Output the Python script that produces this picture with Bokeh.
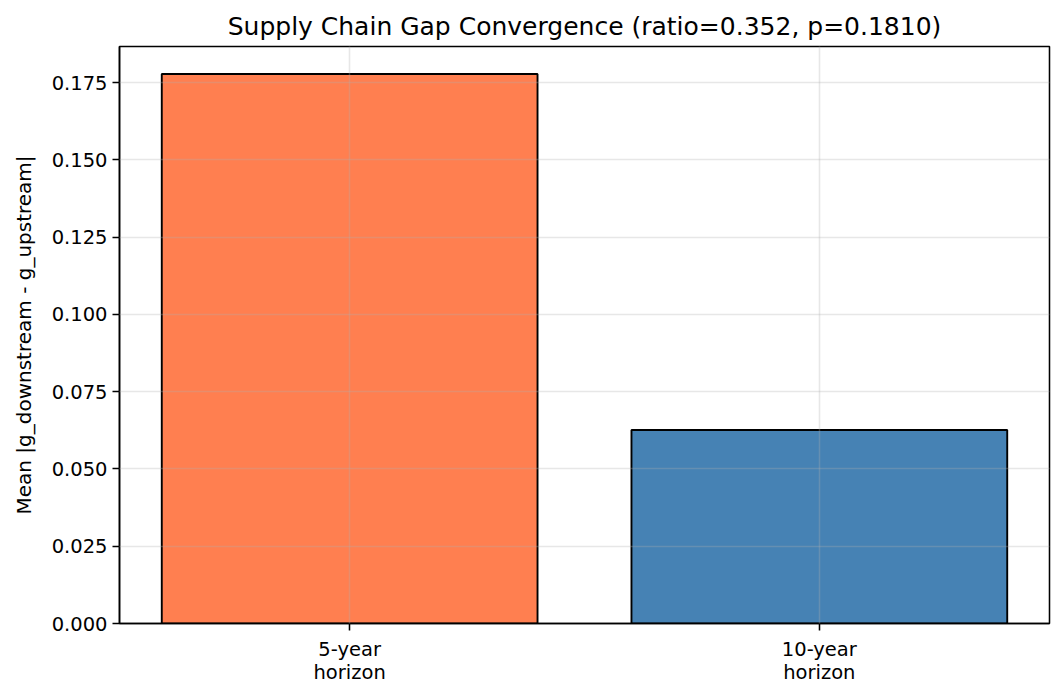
from bokeh.plotting import figure
from bokeh.models import ColumnDataSource, FixedTicker, NumeralTickFormatter, Range1d
from bokeh.embed import file_html
from bokeh.resources import INLINE

# ---- data ----
categories = ["5-year\nhorizon", "10-year\nhorizon"]
gap_means = [0.1778, 0.0626]
bar_colors = ["#FF7F50", "#4682B4"]
y_ticks = [0.000, 0.025, 0.050, 0.075, 0.100, 0.125, 0.150, 0.175]
title_text = "Supply Chain Gap Convergence (ratio=0.352, p=0.1810)"
y_label = "Mean |g_downstream - g_upstream|"

positions = list(range(len(categories)))
src = ColumnDataSource(dict(x=positions, top=gap_means, color=bar_colors))

FONT = "DejaVu Sans"
bar_w = 0.8
x_lo = -bar_w / 2 - 0.05 * (len(categories) - 1 + bar_w)
x_hi = len(categories) - 1 + bar_w / 2 + 0.05 * (len(categories) - 1 + bar_w)

p = figure(
    width=1056, height=688,
    x_range=Range1d(x_lo, x_hi),
    y_range=Range1d(0, max(gap_means) * 1.05),
    output_backend="svg", toolbar_location=None,
    min_border_left=119, min_border_right=7, min_border_top=46, min_border_bottom=65,
)
p.background_fill_color = "white"
p.border_fill_color = "white"

p.vbar(x="x", top="top", bottom=0, width=bar_w, fill_color="color",
       line_color="black", line_width=1.9, source=src)

# title
p.title.text = title_text
p.title.align = "center"
p.title.text_font = FONT
p.title.text_font_size = "25px"
p.title.text_font_style = "normal"
p.title.text_color = "black"
p.title.standoff = 11

# outline
p.outline_line_color = "black"
p.outline_line_width = 1.55
p.outline_line_alpha = 1.0

# axes
for ax in (p.xaxis[0], p.yaxis[0]):
    ax.axis_line_color = "black"
    ax.axis_line_width = 1.55
    ax.major_tick_line_color = "black"
    ax.major_tick_line_width = 1.55
    ax.major_tick_out = 7
    ax.major_tick_in = 0
    ax.minor_tick_line_color = None
    ax.major_label_text_font = FONT
    ax.major_label_text_font_size = "19.5px"
    ax.major_label_text_color = "black"
    ax.major_label_standoff = 7

p.xaxis.ticker = FixedTicker(ticks=positions)
p.xaxis.major_label_overrides = {i: c for i, c in zip(positions, categories)}
p.xaxis.major_label_text_line_height = 1.0

p.yaxis.ticker = FixedTicker(ticks=y_ticks)
p.yaxis.formatter = NumeralTickFormatter(format="0.000")
p.yaxis.major_label_standoff = 5
p.yaxis.axis_label = y_label
p.yaxis.axis_label_text_font = FONT
p.yaxis.axis_label_text_font_size = "20px"
p.yaxis.axis_label_text_font_style = "normal"
p.yaxis.axis_label_text_color = "black"
p.yaxis.axis_label_standoff = 13

# grid (drawn above bars, as in the reference)
for g in (p.xgrid[0], p.ygrid[0]):
    g.grid_line_color = "#b0b0b0"
    g.grid_line_alpha = 0.3
    g.grid_line_width = 1.55
    g.level = "overlay"
p.xgrid.ticker = FixedTicker(ticks=positions)
p.ygrid.ticker = FixedTicker(ticks=y_ticks)

open("out.html", "w").write(file_html(p, INLINE))
